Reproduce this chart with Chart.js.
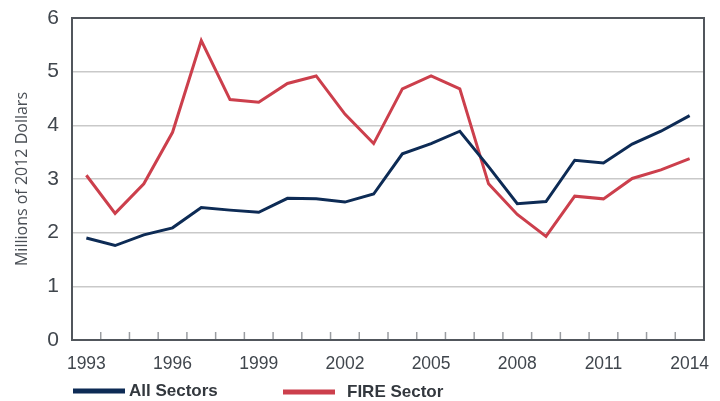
<!DOCTYPE html>
<html>
<head>
<meta charset="utf-8">
<script src="https://cdn.jsdelivr.net/npm/chart.js@4.4.1/dist/chart.umd.min.js"></script>
<style>
  html, body { margin: 0; padding: 0; background: #fff; }
  #wrap { width: 720px; height: 401px; }
</style>
</head>
<body>
<div id="wrap"><canvas id="myChart" width="720" height="401"></canvas></div>
<script>
const years = [1993, 1994, 1995, 1996, 1997, 1998, 1999, 2000, 2001, 2002, 2003,
  2004, 2005, 2006, 2007, 2008, 2009, 2010, 2011, 2012, 2013, 2014];
const allSectors = [1.90, 1.76, 1.96, 2.09, 2.47, 2.42, 2.38, 2.64, 2.63, 2.57, 2.72,
  3.47, 3.66, 3.89, 3.23, 2.54, 2.58, 3.35, 3.30, 3.65, 3.89, 4.18];
const fireSector = [3.07, 2.36, 2.91, 3.87, 5.58, 4.48, 4.43, 4.78, 4.92, 4.21, 3.66,
  4.68, 4.92, 4.68, 2.91, 2.34, 1.93, 2.68, 2.63, 3.01, 3.17, 3.38];
const yTicks = [0, 1, 2, 3, 4, 5, 6];

const NAVY = "#0d2b55";
const RED = "#cc3f4c";
const TEXT = "#40464d";

// frame round the plot and the small inside tick marks on the x axis
const framePlugin = {
  id: "frame",
  afterDatasetsDraw(chart) {
    const { ctx, chartArea: a, scales: { x } } = chart;
    ctx.save();
    ctx.strokeStyle = "#9a9da1";
    ctx.lineWidth = 1.5;
    for (let i = 1; i < years.length; i++) {
      const px = (x.getPixelForValue(i - 1) + x.getPixelForValue(i)) / 2;
      ctx.beginPath();
      ctx.moveTo(px, a.bottom - 8);
      ctx.lineTo(px, a.bottom);
      ctx.stroke();
    }
    ctx.strokeStyle = "#51565c";
    ctx.lineWidth = 2;
    ctx.strokeRect(a.left, a.top, a.right - a.left, a.bottom - a.top);
    ctx.restore();
  },
};

// legend drawn under the axis, from the datasets
const legendPlugin = {
  id: "bottomLegend",
  afterDraw(chart) {
    const { ctx } = chart;
    const spots = [
      { x: 73, y: 391 },
      { x: 283, y: 392 },
    ];
    ctx.save();
    chart.data.datasets.forEach((ds, i) => {
      const s = spots[i];
      ctx.strokeStyle = ds.borderColor;
      ctx.lineWidth = 5;
      ctx.beginPath();
      ctx.moveTo(s.x, s.y);
      ctx.lineTo(s.x + 52, s.y);
      ctx.stroke();
      ctx.fillStyle = "#33383e";
      ctx.font = "bold 17px 'Liberation Sans', Arial, sans-serif";
      ctx.textBaseline = "middle";
      ctx.fillText(ds.label, s.x + 56 + (i === 1 ? 8 : 0), s.y);
    });
    ctx.restore();
  },
};

const ctx = document.getElementById("myChart").getContext("2d");

const myChart = new Chart(ctx, {
  type: "line",
  data: {
    labels: years,
    datasets: [
      {
        label: "All Sectors",
        data: allSectors,
        borderColor: NAVY,
        backgroundColor: NAVY,
        borderWidth: 3,
        pointRadius: 0,
        tension: 0,
      },
      {
        label: "FIRE Sector",
        data: fireSector,
        borderColor: RED,
        backgroundColor: RED,
        borderWidth: 3,
        pointRadius: 0,
        tension: 0,
      },
    ],
  },
  plugins: [framePlugin, legendPlugin],
  options: {
    responsive: false,
    animation: false,
    layout: { padding: { top: 18, right: 16, left: 0, bottom: 0 } },
    plugins: {
      legend: { display: false },
      tooltip: { enabled: false },
    },
    scales: {
      x: {
        type: "category",
        offset: true,
        grid: { display: false, drawTicks: false },
        border: { display: false },
        ticks: {
          autoSkip: false,
          maxRotation: 0,
          padding: 14,
          color: TEXT,
          font: { family: "'Liberation Sans', Arial, sans-serif", size: 17.5 },
          callback: (v, i) => (i % 3 === 0 ? years[i] : ""),
        },
        afterFit: (scale) => {
          scale.height = 61;
          scale.paddingLeft = 0;
          scale.paddingRight = 0;
        },
      },
      y: {
        min: 0,
        max: 6,
        afterBuildTicks: (scale) => { scale.ticks = yTicks.map((v) => ({ value: v })); },
        grid: { color: "#c9c9c9", lineWidth: 1.5, drawTicks: false },
        border: { display: false },
        ticks: {
          padding: 13,
          color: TEXT,
          font: { family: "'Liberation Sans', Arial, sans-serif", size: 21 },
        },
        title: {
          display: true,
          text: "Millions of 2012 Dollars",
          color: "#4a4f55",
          padding: { top: 13, bottom: 0 },
          font: { family: "'Open Sans', 'Liberation Sans', sans-serif", size: 16 },
        },
        afterFit: (scale) => {
          scale.width = 72;
          scale.paddingTop = 0;
          scale.paddingBottom = 0;
        },
      },
    },
  },
});
</script>
</body>
</html>
